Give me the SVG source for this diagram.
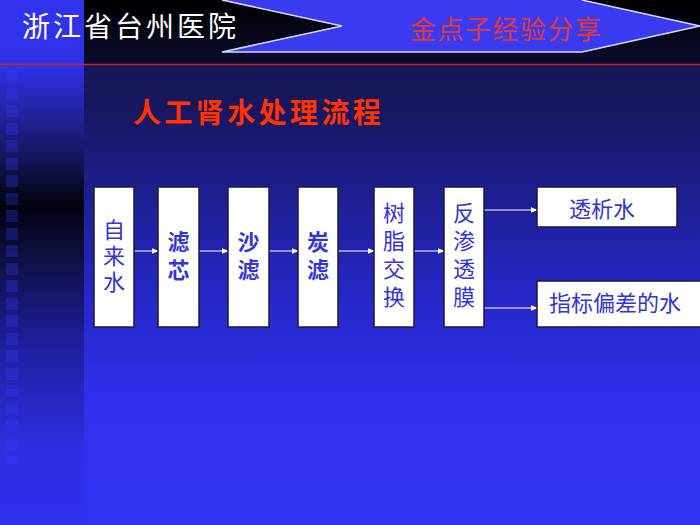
<svg xmlns="http://www.w3.org/2000/svg" width="700" height="525" viewBox="0 0 700 525">
<defs>
<linearGradient id="mainBg" x1="0" y1="0" x2="0" y2="1">
<stop offset="0" stop-color="#13134a"/>
<stop offset="0.2" stop-color="#17175e"/>
<stop offset="0.55" stop-color="#2626c4"/>
<stop offset="0.75" stop-color="#3030ec"/>
<stop offset="1" stop-color="#3030f0"/>
</linearGradient>
<linearGradient id="leftBg" x1="0" y1="0" x2="0" y2="1">
<stop offset="0" stop-color="#3333ee"/>
<stop offset="0.13" stop-color="#3030e6"/>
<stop offset="0.30" stop-color="#15155a"/>
<stop offset="0.39" stop-color="#020210"/>
<stop offset="0.5" stop-color="#101048"/>
<stop offset="0.65" stop-color="#1e1e9a"/>
<stop offset="0.85" stop-color="#2e2ee0"/>
<stop offset="1" stop-color="#3030f0"/>
</linearGradient>
<linearGradient id="headBg" x1="0" y1="0" x2="0" y2="1">
<stop offset="0" stop-color="#000000"/>
<stop offset="1" stop-color="#0c0c30"/>
</linearGradient>
<marker id="arr" viewBox="0 0 10 10" refX="9" refY="5" markerWidth="7" markerHeight="7" markerUnits="userSpaceOnUse" orient="auto">
<path d="M0,1 L10,5 L0,9 Z" fill="#ffffff"/>
</marker>
<style>
.box{fill:#ffffff;stroke:#1a1a40;stroke-width:1.5}
.lbl{font-family:"Liberation Sans","Noto Sans CJK SC",sans-serif;font-size:22px;fill:#3333dd;text-anchor:middle}
.b{font-weight:bold}
.conn{stroke:#ffffff;stroke-width:1;fill:none;marker-end:url(#arr)}
.sq{fill:#3a3aff;opacity:0.28}
</style>
</defs>
<rect x="0" y="0" width="700" height="525" fill="url(#mainBg)"/>
<rect x="0" y="0" width="84" height="525" fill="url(#leftBg)"/>
<g id="squares">
<rect class="sq" x="6" y="70" width="12" height="12"/>
<rect class="sq" x="6" y="88" width="12" height="12"/>
<rect class="sq" x="6" y="105" width="12" height="12"/>
<rect class="sq" x="6" y="123" width="12" height="12"/>
<rect class="sq" x="6" y="140" width="12" height="12"/>
<rect class="sq" x="6" y="158" width="12" height="12"/>
<rect class="sq" x="6" y="175" width="12" height="12"/>
<rect class="sq" x="6" y="193" width="12" height="12"/>
<rect class="sq" x="6" y="210" width="12" height="12"/>
<rect class="sq" x="6" y="228" width="12" height="12"/>
<rect class="sq" x="6" y="245" width="12" height="12"/>
<rect class="sq" x="6" y="263" width="12" height="12"/>
<rect class="sq" x="6" y="280" width="12" height="12"/>
<rect class="sq" x="6" y="298" width="12" height="12"/>
<rect class="sq" x="6" y="315" width="12" height="12"/>
<rect class="sq" x="6" y="333" width="12" height="12"/>
<rect class="sq" x="6" y="350" width="12" height="12"/>
<rect class="sq" x="6" y="368" width="12" height="12"/>
<rect class="sq" x="6" y="385" width="12" height="12"/>
<rect class="sq" x="6" y="403" width="12" height="12"/>
<rect class="sq" x="6" y="420" width="12" height="12" opacity="0.15"/>
<rect class="sq" x="6" y="438" width="12" height="12" opacity="0.1"/>
<rect class="sq" x="6" y="455" width="12" height="12" opacity="0.06"/>
</g>
<g id="header">
<rect x="84" y="0" width="616" height="64" fill="url(#headBg)"/>
<path d="M222,0 L582,0 L700,26 L582,52 L222,52 L342,26 Z" fill="#3a3af0"/>
<path d="M222,0 L342,26 L222,52 L582,52 L700,26 L582,0" fill="none" stroke="#d8d8ff" stroke-width="1.5"/>
<line x1="0" y1="64.5" x2="700" y2="64.5" stroke="#c02828" stroke-width="1.5"/>
<text x="22" y="37" font-family="'Liberation Sans','Noto Sans CJK SC',sans-serif" font-size="28" letter-spacing="3" fill="#ffffff">浙江省台州医院</text>
<text x="410" y="39" font-family="'Liberation Sans','Noto Sans CJK SC',sans-serif" font-size="26" letter-spacing="1.5" fill="#e03838">金点子经验分享</text>
</g>
<text x="133" y="123" font-family="'Liberation Sans','Noto Sans CJK SC',sans-serif" font-size="28" font-weight="bold" letter-spacing="3.4" fill="#ff3300">人工肾水处理流程</text>
<g id="connectors">
<line class="conn" x1="134" y1="251" x2="158" y2="251"/>
<line class="conn" x1="199" y1="251" x2="228" y2="251"/>
<line class="conn" x1="269" y1="251" x2="298" y2="251"/>
<line class="conn" x1="338" y1="251" x2="374" y2="251"/>
<line class="conn" x1="414" y1="251" x2="444" y2="251"/>
<line class="conn" x1="484" y1="210" x2="537" y2="210"/>
<line class="conn" x1="484" y1="308" x2="537" y2="308"/>
</g>
<g id="n1">
<rect class="box" x="94" y="187" width="40" height="140"/>
<text class="lbl" x="114" y="238">自</text>
<text class="lbl" x="114" y="264">来</text>
<text class="lbl" x="114" y="290">水</text>
</g>
<g id="n2">
<rect class="box" x="158" y="187" width="41" height="140"/>
<text class="lbl b" x="178.5" y="250">滤</text>
<text class="lbl b" x="178.5" y="278">芯</text>
</g>
<g id="n3">
<rect class="box" x="228" y="187" width="41" height="140"/>
<text class="lbl b" x="248.5" y="250">沙</text>
<text class="lbl b" x="248.5" y="278">滤</text>
</g>
<g id="n4">
<rect class="box" x="298" y="187" width="40" height="140"/>
<text class="lbl b" x="318" y="250">炭</text>
<text class="lbl b" x="318" y="278">滤</text>
</g>
<g id="n5">
<rect class="box" x="374" y="187" width="40" height="140"/>
<text class="lbl" x="394" y="221">树</text>
<text class="lbl" x="394" y="249">脂</text>
<text class="lbl" x="394" y="277">交</text>
<text class="lbl" x="394" y="305">换</text>
</g>
<g id="n6">
<rect class="box" x="444" y="187" width="40" height="140"/>
<text class="lbl" x="464" y="221">反</text>
<text class="lbl" x="464" y="249">渗</text>
<text class="lbl" x="464" y="277">透</text>
<text class="lbl" x="464" y="305">膜</text>
</g>
<g id="n7">
<rect class="box" x="537" y="187" width="140" height="40"/>
<text class="lbl" x="602" y="217">透析水</text>
</g>
<g id="n8">
<rect class="box" x="537" y="281" width="165" height="46"/>
<text class="lbl" x="615" y="311" font-size="23">指标偏差的水</text>
</g>
</svg>
